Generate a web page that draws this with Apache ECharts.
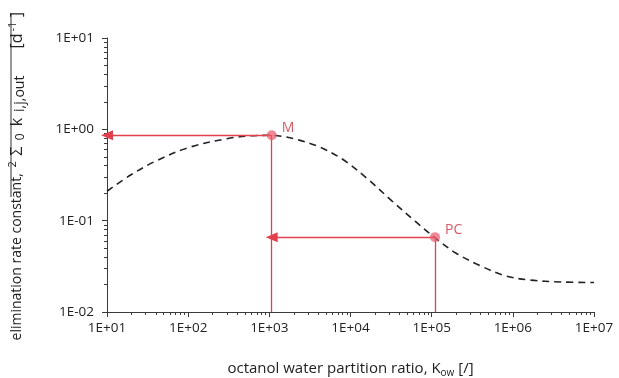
<!DOCTYPE html>
<html>
<head>
<meta charset="utf-8">
<script src="https://cdn.jsdelivr.net/npm/echarts@6/dist/echarts.min.js"></script>
<style>html,body{margin:0;padding:0;background:#fff}#c{width:619px;height:378px}</style>
</head>
<body>
<div id="c"></div>
<script>
// Curve (dashed): Kow values and elimination rate constants
var curveX = [10, 20, 40, 100, 300, 600, 1000, 1400, 2000, 4000, 8000, 16000, 32000, 63000, 110000, 200000, 400000, 800000, 1600000, 4000000, 10000000];
var curveY = [0.21, 0.32, 0.45, 0.63, 0.79, 0.85, 0.86, 0.84, 0.79, 0.65, 0.47, 0.29, 0.166, 0.098, 0.065, 0.044, 0.032, 0.025, 0.0224, 0.0213, 0.021];
// Highlighted points
var pointNames = ['M', 'PC'];
var pointX = [1070, 110000];
var pointY = [0.86, 0.066];
// Tick labels
var xMajor = [10, 100, 1000, 10000, 100000, 1000000, 10000000];
var xTickLabels = ['1E+01', '1E+02', '1E+03', '1E+04', '1E+05', '1E+06', '1E+07'];
var yMajor = [0.01, 0.1, 1, 10];
var yTickLabels = ['1E-02', '1E-01', '1E+00', '1E+01'];

function minorExponents(majors) {
  var out = [];
  for (var i = 0; i < majors.length - 1; i++) {
    for (var k = 2; k <= 9; k++) out.push(Math.log10(majors[i] * k));
  }
  return out;
}
function labelFor(majors, labels) {
  return function (v) {
    for (var i = 0; i < majors.length; i++) {
      if (Math.abs(Math.log10(v) - Math.log10(majors[i])) < 1e-6) return labels[i];
    }
    return '';
  };
}

var RED = '#e3404e';
var FONT = 'Open Sans';
var AX = '#3a3a3a';
var GL = 107, GR = 25, GT = 38, GB = 66, W = 619, H = 378;
var chart = echarts.init(document.getElementById('c'));

var curveData = curveX.map(function (x, i) { return [x, curveY[i]]; });
var pts = pointX.map(function (x, i) { return {name: pointNames[i], value: [x, pointY[i]]}; });
var lineStyleRed = {color: RED, width: 1.3, type: 'solid'};
var lx = Math.log10(xMajor[0]), hx = Math.log10(xMajor[xMajor.length - 1]);
var ly = Math.log10(yMajor[0]), hy = Math.log10(yMajor[yMajor.length - 1]);
var plotW = W - GL - GR, plotH = H - GT - GB;

function seg(size, va, lh, padL, padR) {
  return {fontFamily: FONT, fontSize: size, color: '#222', lineHeight: lh, verticalAlign: va, padding: [0, padR, 0, padL]};
}

chart.setOption({
  animation: false,
  grid: {left: GL, right: GR, top: GT, bottom: GB, outerBoundsMode: 'none', containLabel: false},
  xAxis: [{
    type: 'log', min: xMajor[0], max: xMajor[xMajor.length - 1], logBase: 10, position: 'bottom',
    axisLine: {show: true, onZero: false, lineStyle: {color: AX, width: 1}},
    axisTick: {show: true, length: 5, customValues: xMajor, lineStyle: {color: AX}},
    axisLabel: {customValues: xMajor, formatter: labelFor(xMajor, xTickLabels), color: '#222', fontFamily: FONT, fontSize: 13.5, margin: 9},
    splitLine: {show: false},
    name: '{t|octanol water partition ratio, K}{s|ow}{t| [/]}',
    nameLocation: 'middle', nameGap: 48,
    nameTextStyle: {rich: {
      t: {fontFamily: FONT, fontSize: 15, color: '#222'},
      s: {fontFamily: FONT, fontSize: 10, color: '#222', verticalAlign: 'bottom', padding: [8, 0, 0, 0]}
    }}
  }, {
    type: 'value', min: lx, max: hx, position: 'top', offset: -plotH, gridIndex: 0,
    axisLine: {show: false, onZero: false}, axisLabel: {show: false}, splitLine: {show: false},
    axisTick: {show: true, inside: true, length: 3, customValues: minorExponents(xMajor), lineStyle: {color: AX}}
  }],
  yAxis: [{
    type: 'log', min: yMajor[0], max: yMajor[yMajor.length - 1], logBase: 10, position: 'left',
    axisLine: {show: true, onZero: false, lineStyle: {color: AX, width: 1}},
    axisTick: {show: true, length: 5, customValues: yMajor, lineStyle: {color: AX}},
    axisLabel: {customValues: yMajor, formatter: labelFor(yMajor, yTickLabels), color: '#222', fontFamily: FONT, fontSize: 13.5, margin: 13},
    splitLine: {show: false},
    name: '{t|elimination rate constant, }{sp|2}{g|Σ}{sz|0}{k|k}{sb|i,j,out}{b|[d}{sp2|-1}{e|]}',
    nameLocation: 'middle', nameGap: 80, nameRotate: 90,
    nameTextStyle: {rich: {
      t: seg(14, 'middle', 20, 0, 0),
      sp: seg(11, 'top', 14, 2, 2),
      g: seg(16, 'middle', 20, 3.5, 3.5),
      sz: seg(12, 'bottom', 14, 3, 3),
      k: seg(16, 'middle', 20, 4, 4),
      sb: seg(14, 'bottom', 14, 2, 19),
      b: seg(16, 'middle', 20, 8, 0),
      sp2: seg(11, 'top', 14, 2, 2),
      e: seg(16, 'middle', 20, 2.5, 2.5)
    }}
  }, {
    type: 'value', min: ly, max: hy, position: 'right', offset: -plotW, gridIndex: 0,
    axisLine: {show: false, onZero: false}, axisLabel: {show: false}, splitLine: {show: false},
    axisTick: {show: true, inside: true, length: 3, customValues: minorExponents(yMajor), lineStyle: {color: AX}}
  }],
  graphic: [{type: 'line', shape: {x1: 11, y1: 13, x2: 11, y2: 197}, style: {stroke: '#333', lineWidth: 1}}],
  series: [
    {
      type: 'line', data: curveData, smooth: 0.35, symbol: 'none',
      lineStyle: {color: '#222', width: 1.6, type: [7, 5]}, z: 2
    },
    {
      type: 'scatter', data: pts, symbolSize: 10, z: 5,
      itemStyle: {color: 'rgba(232,92,108,0.9)'},
      label: {show: true, formatter: '{b}', position: 'right', color: '#c9303c', fontFamily: FONT, fontSize: 14,
        offset: [0, -7]},
      markLine: {
        silent: true, symbol: ['none', 'none'], animation: false,
        label: {show: false},
        lineStyle: lineStyleRed,
        data: [
          [{coord: [pointX[0], pointY[0]], symbol: 'none'}, {coord: [xMajor[0], pointY[0]], symbol: 'triangle', symbolSize: [10, 12]}],
          [{coord: [pointX[0], pointY[0]]}, {coord: [pointX[0], yMajor[0]]}],
          [{coord: [pointX[1], pointY[1]], symbol: 'none'}, {coord: [pointX[0], pointY[1]], symbol: 'triangle', symbolSize: [10, 12]}],
          [{coord: [pointX[1], pointY[1]]}, {coord: [pointX[1], yMajor[0]]}]
        ]
      }
    }
  ]
});
</script>
</body>
</html>
